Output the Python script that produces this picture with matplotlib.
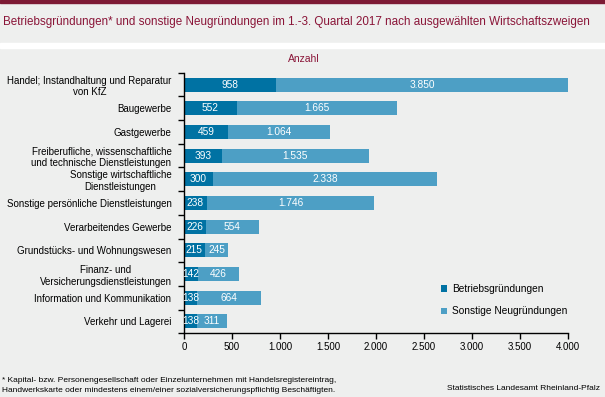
import matplotlib
matplotlib.use("Agg")
import matplotlib.pyplot as plt
import matplotlib.patches as patches
import numpy as np

plt.rcParams['font.family'] = ['Liberation Sans', 'DejaVu Sans']

categories = [
    "Handel; Instandhaltung und Reparatur\nvon KfZ",
    "Baugewerbe",
    "Gastgewerbe",
    "Freiberufliche, wissenschaftliche\nund technische Dienstleistungen",
    "Sonstige wirtschaftliche\nDienstleistungen",
    "Sonstige persönliche Dienstleistungen",
    "Verarbeitendes Gewerbe",
    "Grundstücks- und Wohnungswesen",
    "Finanz- und\nVersicherungsdienstleistungen",
    "Information und Kommunikation",
    "Verkehr und Lagerei",
]
betrieb = [958, 552, 459, 393, 300, 238, 226, 215, 142, 138, 138]
sonstige = [3850, 1665, 1064, 1535, 2338, 1746, 554, 245, 426, 664, 311]
xticks = [0, 500, 1000, 1500, 2000, 2500, 3000, 3500, 4000]

bg = '#eeefee'
red = '#8a1538'
dark = '#0072a3'
light = '#4d9fc5'
xmax = 4000

def fmt(v):
    return f"{v:,}".replace(",", ".")

W, H = 605, 397
fig = plt.figure(figsize=(W / 100, H / 100), dpi=100, facecolor=bg)

# top red line and white separator
fig.patches.append(patches.Rectangle((0, 1 - 2.5 / H), 1, 2.5 / H, transform=fig.transFigure,
                                     color='#7d1a34', zorder=0))
fig.patches.append(patches.Rectangle((0, 1 - 47.5 / H), 1, 5 / H, transform=fig.transFigure,
                                     color='white', zorder=0))

title = fig.text(3 / W, 1 - 22 / H, "Betriebsgründungen* und sonstige Neugründungen im 1.-3. Quartal 2017 nach ausgewählten Wirtschaftszweigen",
                 color=red, fontsize=9.5, va='center', ha='left')
# shrink title so it ends where the reference one does (~592 px)
r = fig.canvas.get_renderer()
tw = title.get_window_extent(renderer=r).width
title.set_fontsize(9.5 * 589 / tw)

fig.text(304 / W, 1 - 59 / H, "Anzahl", color=red, fontsize=7.5, ha='center', va='center')

ax = fig.add_axes([184 / W, 1 - 333.3 / H, (568 - 184) / W, (333.3 - 72.7) / H])
ax.set_facecolor(bg)

y = np.arange(len(categories))
h = 0.59
ax.barh(y, betrieb, height=h, color=dark, label="Betriebsgründungen", zorder=2)
ax.barh(y, sonstige, left=betrieb, height=h, color=light, label="Sonstige Neugründungen", zorder=2)

for i in range(len(categories)):
    b = betrieb[i]
    s = sonstige[i]
    ax.text(b / 2, i, fmt(b), color='white', fontsize=7.3, ha='center', va='center', zorder=3)
    end = min(b + s, xmax)
    ax.text((b + end) / 2, i, fmt(s), color='white', fontsize=7.3, ha='center', va='center', zorder=3)

ax.set_xlim(0, xmax)
ax.set_ylim(len(categories) - 0.5, -0.5)
ax.set_xticks(xticks)
ax.set_xticklabels([fmt(t) for t in xticks], fontsize=7)
ax.set_yticks(y)
ax.set_yticklabels(categories, fontsize=7, multialignment='center')
ax.set_yticks(np.arange(-0.5, len(categories)), minor=True)
ax.tick_params(axis='y', which='major', length=0, pad=9)
ax.tick_params(axis='y', which='minor', length=4.5, width=1)
ax.tick_params(axis='x', length=4, width=1, pad=2)
for side in ['top', 'right']:
    ax.spines[side].set_visible(False)
for side in ['left', 'bottom']:
    ax.spines[side].set_linewidth(1)

ax.legend(loc='lower left', bbox_to_anchor=(0.645, 0.03), frameon=False, fontsize=7.3,
          handlelength=0.6, handleheight=0.6, handletextpad=0.5, labelspacing=1.2)

fig.text(2 / W, 1 - 380 / H, "* Kapital- bzw. Personengesellschaft oder Einzelunternehmen mit Handelsregistereintrag,",
         fontsize=6, va='center', ha='left')
fig.text(2 / W, 1 - 391 / H, "Handwerkskarte oder mindestens einem/einer sozialversicherungspflichtig Beschäftigten.",
         fontsize=6, va='center', ha='left')
fig.text(600 / W, 1 - 389 / H, "Statistisches Landesamt Rheinland-Pfalz",
         fontsize=6, va='center', ha='right')

fig.savefig("out.png", dpi=100, facecolor=bg)
